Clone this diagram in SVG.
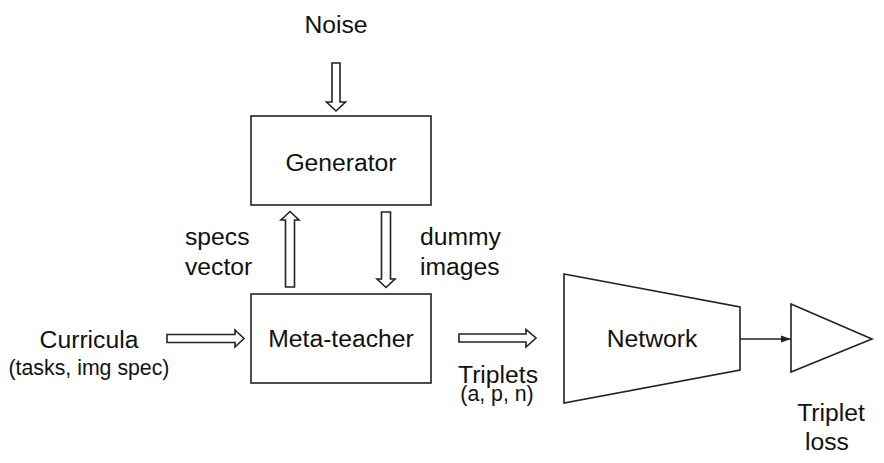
<svg xmlns="http://www.w3.org/2000/svg" width="884" height="463" viewBox="0 0 884 463">
<style>
.s{fill:#fff;stroke:#222;stroke-width:1.6}
.t{font-family:"Liberation Sans",Arial,sans-serif;font-size:24.7px;fill:#111}
.sm{font-size:21.3px}
.m{text-anchor:middle}
</style>
<defs>
<marker id="ah" viewBox="0 0 10 10" refX="10" refY="5" markerWidth="10" markerHeight="10" orient="auto" markerUnits="userSpaceOnUse"><path d="M0,1.5 L10,5 L0,8.5 Z" fill="#222"/></marker>
</defs>
<rect width="884" height="463" fill="#fff"/>
<g id="noise"><text class="t m" x="336" y="33">Noise</text></g>
<g id="generator"><rect class="s" x="251" y="116" width="180" height="89"/><text class="t m" x="341" y="171">Generator</text></g>
<g id="metateacher"><rect class="s" x="251" y="294" width="180" height="89"/><text class="t m" x="341" y="347">Meta-teacher</text></g>
<g id="network"><path class="s" d="M564,274 L740,307 L740,370 L564,403 Z"/><text class="t m" x="652" y="347">Network</text></g>
<g id="tripletloss"><path class="s" d="M791,304 L872,339 L791,372 Z"/><text class="t m" x="831" y="421">Triplet</text><text class="t m" x="827" y="450">loss</text></g>
<g id="curricula"><text class="t m" x="89" y="348">Curricula</text><text class="t sm m" x="89" y="375">(tasks, img spec)</text></g>
<g id="labels">
<text class="t" x="185" y="245">specs</text><text class="t" x="185" y="275">vector</text>
<text class="t" x="420" y="245">dummy</text><text class="t" x="420" y="275">images</text>
<text class="t m" x="498" y="383">Triplets</text><text class="t sm m" x="497" y="401">(a, p, n)</text>
</g>
<g id="connectors">
<path class="s" d="M332,63 L340,63 L340,102 L345.5,102 L336,111 L326.5,102 L332,102 Z"/>
<path class="s" d="M285.5,287 L294.5,287 L294.5,220 L299,220 L290,211.5 L281,220 L285.5,220 Z"/>
<path class="s" d="M381.5,212 L390.5,212 L390.5,279 L395,279 L386,287.5 L377,279 L381.5,279 Z"/>
<path class="s" d="M167,334.5 L235,334.5 L235,330 L244,338.5 L235,347 L235,342.5 L167,342.5 Z"/>
<path class="s" d="M459,334 L526,334 L526,329.5 L536,338 L526,347 L526,342 L459,342 Z"/>
<line x1="740" y1="339" x2="791" y2="339" stroke="#222" stroke-width="1.6" marker-end="url(#ah)"/>
</g>
</svg>
